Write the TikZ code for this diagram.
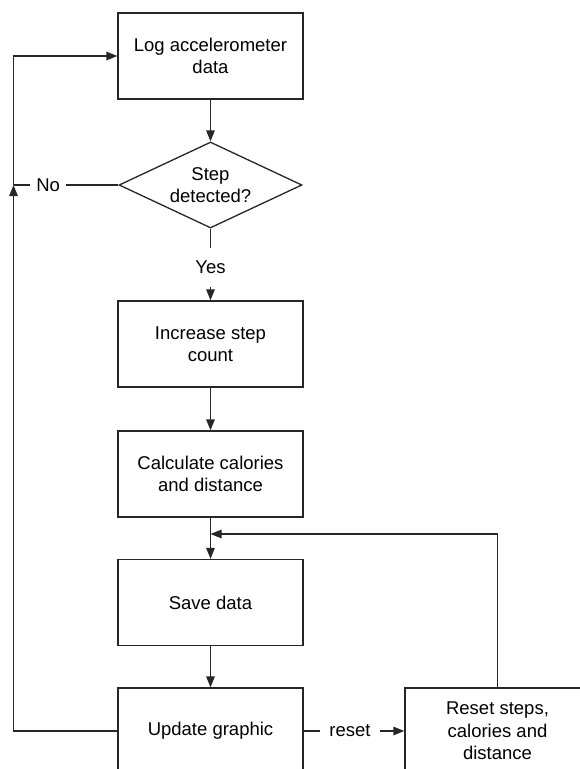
\documentclass[tikz,border=0pt]{standalone}
\usepackage{fontspec}
\setmainfont{Liberation Sans}
\usetikzlibrary{shapes.geometric, arrows.meta}

\begin{document}
\begin{tikzpicture}[x=1pt, y=-1pt,
  txt/.style={font=\fontsize{18.5}{22.5}\selectfont},
  proc/.style={txt, draw=black!85, line width=1.3pt, minimum width=185pt, minimum height=86pt, inner sep=0pt, align=center},
  decide/.style={txt, draw=black!85, line width=1.3pt, diamond, aspect=2.13, minimum width=183pt, minimum height=86pt, inner sep=0pt, align=center},
  link/.style={draw=black!85, line width=1.3pt},
  flow/.style={link, -{Triangle[length=11pt, width=8.5pt]}},
  lbl/.style={txt, fill=white, inner sep=2pt}]

  \useasboundingbox (0,0) rectangle (579,769);

  % Main column
  \node[proc] (logdata) at (210.5, 56) {Log accelerometer\\data};
  \node[decide] (check) at (210.5, 185) {Step\\detected?};
  \node[proc] (inc) at (210.5, 344) {Increase step\\count};
  \node[proc] (calc) at (210.5, 474) {Calculate calories\\and distance};
  \node[proc] (save) at (210.5, 602.5) {Save data};
  \node[proc] (upd) at (210.5, 731) {Update graphic};

  % Reset branch
  \node[proc] (rst) at (497.5, 731) {Reset steps,\\calories and\\distance};

  % Junctions
  \coordinate (nojoin) at (13.5, 185);
  \coordinate (merge) at (210.5, 534);

  % Forward flow
  \draw[flow] (logdata) -- (check);
  \draw[flow] (check.south) -- node[lbl, pos=0.54, inner ysep=13pt] {Yes} (inc.north);
  \draw[flow] (inc) -- (calc);
  \draw[flow] (calc) -- (save);
  \draw[flow] (save) -- (upd);
  \draw[flow] (upd.east) -- node[lbl, pos=0.46, inner xsep=9pt] {reset} (rst.west);

  % Loops back
  \draw[link] (check.west) -- node[lbl, pos=0.67, inner xsep=6pt] {No} (nojoin);
  \draw[flow] (upd.west) -| (nojoin);
  \draw[flow] (nojoin) |- (logdata.west);
  \draw[flow] (rst.north) |- (merge);
\end{tikzpicture}
\end{document}
